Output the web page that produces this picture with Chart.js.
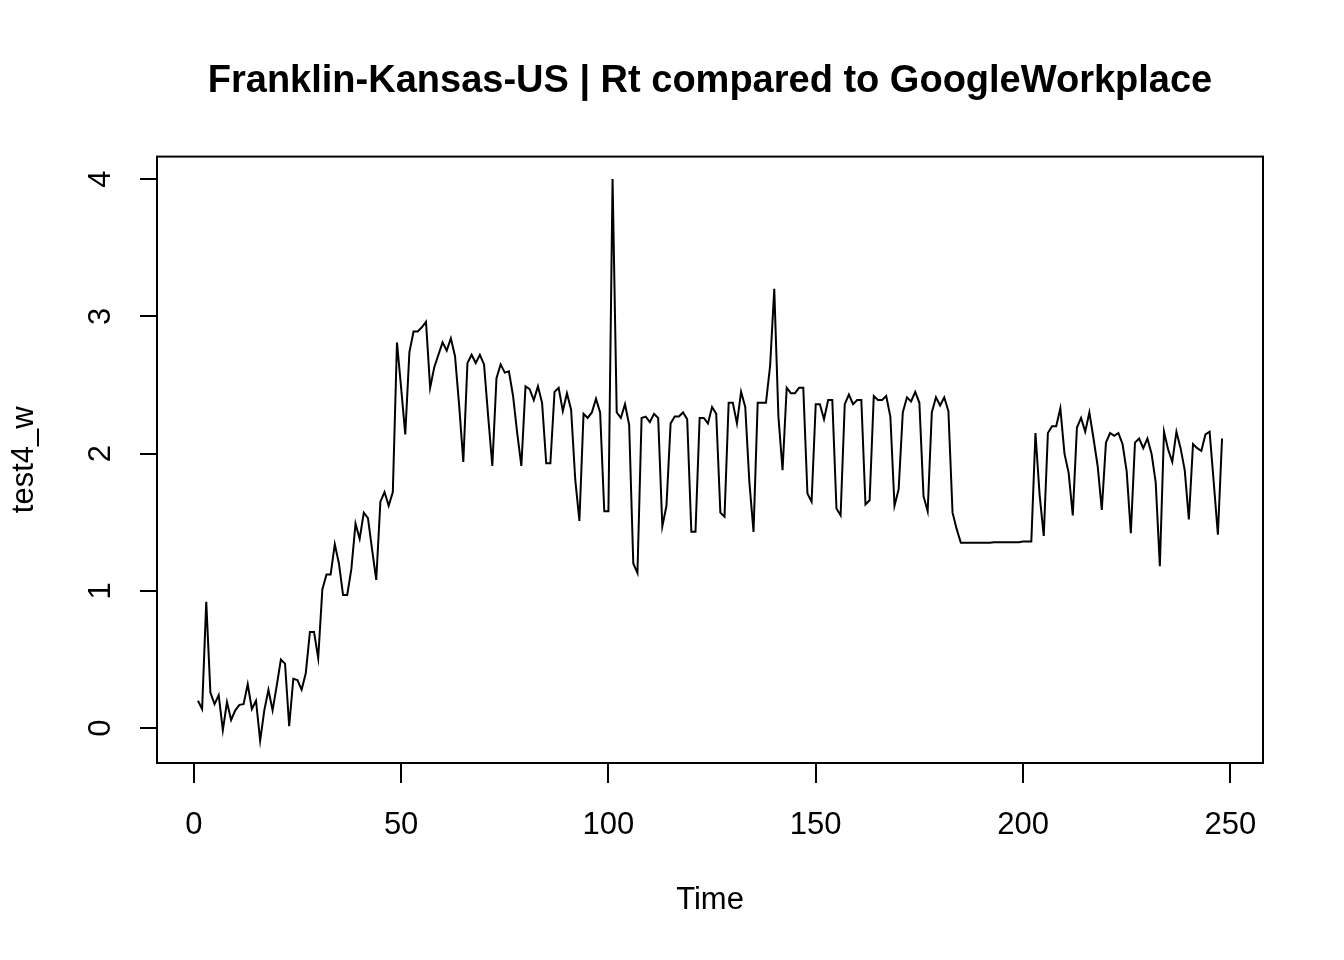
<!DOCTYPE html>
<html>
<head>
<meta charset="utf-8">
<script src="https://cdn.jsdelivr.net/npm/chart.js@4.4.1/dist/chart.umd.min.js"></script>
<style>
  html, body { margin: 0; padding: 0; background: #ffffff; }
  #wrap { width: 1344px; height: 960px; }
</style>
</head>
<body>
<div id="wrap"><canvas id="c" width="1344" height="960"></canvas></div>
<script>
// ---- data ----
const chartTitle = "Franklin-Kansas-US | Rt compared to GoogleWorkplace";
const xAxisTitle = "Time";
const yAxisTitle = "test4_w";
const xTickValues = [0, 50, 100, 150, 200, 250];
const yTickValues = [0, 1, 2, 3, 4];
const rtValues = [
  0.20, 0.14, 0.92, 0.26, 0.175, 0.24, -0.015, 0.19, 0.06, 0.13,
  0.17, 0.175, 0.32, 0.14, 0.20, -0.09, 0.13, 0.28, 0.13, 0.31,
  0.50, 0.47, 0.015, 0.36, 0.35, 0.28, 0.40, 0.70, 0.70, 0.51,
  1.01, 1.12, 1.12, 1.34, 1.20, 0.97, 0.97, 1.16, 1.49, 1.38,
  1.57, 1.53, 1.30, 1.08, 1.65, 1.72, 1.62, 1.72, 2.81, 2.48,
  2.14, 2.74, 2.89, 2.89, 2.92, 2.96, 2.48, 2.63, 2.72, 2.81,
  2.75, 2.84, 2.71, 2.35, 1.94, 2.66, 2.72, 2.66, 2.72, 2.65,
  2.27, 1.91, 2.55, 2.65, 2.59, 2.60, 2.42, 2.15, 1.91, 2.49,
  2.47, 2.39, 2.49, 2.37, 1.93, 1.93, 2.45, 2.48, 2.31, 2.44,
  2.32, 1.81, 1.51, 2.29, 2.26, 2.30, 2.40, 2.30, 1.58, 1.58,
  4.00, 2.30, 2.26, 2.36, 2.21, 1.20, 1.13, 2.26, 2.27, 2.23,
  2.29, 2.26, 1.47, 1.62, 2.22, 2.27, 2.27, 2.30, 2.25, 1.43,
  1.43, 2.26, 2.26, 2.22, 2.34, 2.29, 1.57, 1.54, 2.37, 2.37,
  2.22, 2.45, 2.34, 1.79, 1.43, 2.37, 2.37, 2.37, 2.64, 3.20,
  2.27, 1.88, 2.48, 2.44, 2.44, 2.48, 2.48, 1.71, 1.65, 2.36,
  2.36, 2.25, 2.39, 2.39, 1.60, 1.55, 2.36, 2.43, 2.36, 2.39,
  2.39, 1.63, 1.66, 2.42, 2.39, 2.39, 2.42, 2.27, 1.62, 1.74,
  2.30, 2.41, 2.38, 2.45, 2.37, 1.69, 1.58, 2.30, 2.41, 2.35,
  2.41, 2.31, 1.57, 1.45, 1.35, 1.35, 1.35, 1.35, 1.35, 1.35,
  1.35, 1.35, 1.355, 1.355, 1.355, 1.355, 1.355, 1.355, 1.355, 1.36,
  1.36, 1.36, 2.15, 1.70, 1.40, 2.15, 2.20, 2.20, 2.33, 2.00,
  1.86, 1.55, 2.19, 2.26, 2.16, 2.30, 2.11, 1.91, 1.59, 2.08,
  2.15, 2.13, 2.15, 2.07, 1.87, 1.42, 2.08, 2.11, 2.04, 2.11,
  2.00, 1.79, 1.18, 2.16, 2.03, 1.94, 2.16, 2.04, 1.88, 1.52,
  2.07, 2.04, 2.02, 2.14, 2.16, 1.79, 1.41, 2.11
];
const timeIndex = rtValues.map((_, i) => i + 1);

// R-style axis range: data range extended by 4% on each side
const xMin = timeIndex[0] - 0.04 * (timeIndex[timeIndex.length - 1] - timeIndex[0]);
const xMax = timeIndex[timeIndex.length - 1] + 0.04 * (timeIndex[timeIndex.length - 1] - timeIndex[0]);
const yLo = Math.min(...rtValues), yHi = Math.max(...rtValues);
const yMin = yLo - 0.04 * (yHi - yLo);
const yMax = yHi + 0.04 * (yHi - yLo);

const FONT = "'Liberation Sans', Arial, Helvetica, sans-serif";

const boxPlugin = {
  id: 'boxPlugin',
  afterDraw(chart) {
    const a = chart.chartArea, ctx = chart.ctx;
    ctx.save();
    ctx.strokeStyle = '#000';
    ctx.lineWidth = 2;
    ctx.strokeRect(a.left, a.top, a.right - a.left, a.bottom - a.top);
    ctx.restore();
  }
};

new Chart(document.getElementById('c'), {
  type: 'line',
  data: {
    datasets: [{
      data: timeIndex.map((t, i) => ({ x: t, y: rtValues[i] })),
      borderColor: '#000',
      borderWidth: 2,
      pointRadius: 0,
      tension: 0,
      fill: false
    }]
  },
  options: {
    responsive: false,
    animation: false,
    devicePixelRatio: 1,
    layout: { padding: { left: 0, right: 81, top: 0, bottom: 0 } },
    plugins: {
      legend: { display: false },
      tooltip: { enabled: false },
      title: {
        display: true,
        text: chartTitle,
        fullSize: false,
        color: '#000',
        font: { family: FONT, size: 38, weight: 'bold', lineHeight: 1.2 },
        padding: { top: 59, bottom: 52 }
      }
    },
    scales: {
      x: {
        type: 'linear',
        min: xMin,
        max: xMax,
        afterBuildTicks: (s) => { s.ticks = xTickValues.map(v => ({ value: v })); },
        afterFit: (s) => { s.height = 197; },
        grid: { drawOnChartArea: false, drawTicks: true, tickLength: 20, color: '#000', lineWidth: 2 },
        border: { display: false },
        ticks: {
          color: '#000',
          font: { family: FONT, size: 31 },
          padding: 24,
          maxRotation: 0,
          minRotation: 0,
          autoSkip: false
        },
        title: {
          display: true,
          text: xAxisTitle,
          color: '#000',
          font: { family: FONT, size: 31, lineHeight: 1.2 },
          padding: { top: 0, bottom: 41 }
        }
      },
      y: {
        type: 'linear',
        min: yMin,
        max: yMax,
        afterBuildTicks: (s) => { s.ticks = yTickValues.map(v => ({ value: v })); },
        afterFit: (s) => { s.width = 157; },
        grid: { drawOnChartArea: false, drawTicks: true, tickLength: 17, color: '#000', lineWidth: 2 },
        border: { display: false },
        ticks: {
          color: '#000',
          font: { family: FONT, size: 31 },
          padding: 30,
          minRotation: 90,
          maxRotation: 90,
          crossAlign: 'center',
          autoSkip: false
        },
        title: {
          display: true,
          text: yAxisTitle,
          color: '#000',
          font: { family: FONT, size: 31, lineHeight: 1.2 },
          padding: { top: 6, bottom: 0 }
        }
      }
    }
  },
  plugins: [boxPlugin]
});
</script>
</body>
</html>
